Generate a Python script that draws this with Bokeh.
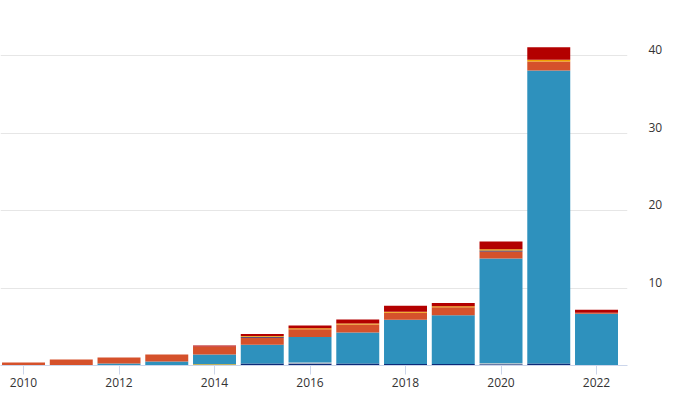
from bokeh.plotting import figure
from bokeh.models import ColumnDataSource, FixedTicker, Range1d, LinearAxis
from bokeh.embed import file_html
from bokeh.resources import INLINE

years = [2010, 2011, 2012, 2013, 2014, 2015, 2016, 2017, 2018, 2019, 2020, 2021, 2022]
navy = [0, 0, 0, 0, 0, 0.26, 0.26, 0.26, 0.2, 0.2, 0.17, 0.26, 0]
gray = [0, 0, 0, 0, 0, 0, 0.13, 0, 0, 0, 0.13, 0, 0]
yellow = [0, 0, 0, 0, 0.17, 0, 0, 0, 0, 0, 0, 0, 0]
blue = [0, 0, 0.26, 0.52, 1.25, 2.41, 3.3, 4.0, 5.7, 6.3, 13.5, 37.8, 6.67]
orange_red = [0.39, 0.77, 0.77, 0.9, 1.03, 0.9, 1.0, 1.03, 0.9, 1.03, 0.9, 1.16, 0.15]
purple = [0, 0, 0, 0, 0, 0.13, 0, 0, 0, 0, 0.15, 0, 0]
orange = [0, 0, 0, 0, 0, 0.1, 0.12, 0.12, 0.13, 0.13, 0.16, 0.22, 0]
red = [0, 0, 0, 0, 0.13, 0.26, 0.35, 0.52, 0.77, 0.39, 1.0, 1.63, 0.39]

x_ticks = [2010, 2012, 2014, 2016, 2018, 2020, 2022]
y_ticks = [10, 20, 30, 40]

series = ["navy", "gray", "yellow", "blue", "orange_red", "purple", "orange", "red"]
colors = ["#0d2a78", "#c9c9c9", "#f2a900", "#2e91bd", "#d5512b", "#2b1f5c", "#f0a000", "#b30000"]

source = ColumnDataSource(dict(
    x=years, navy=navy, gray=gray, yellow=yellow, blue=blue,
    orange_red=orange_red, purple=purple, orange=orange, red=red,
))

y_top = 47.1
label_shift = 0.75  # labels sit slightly above their grid lines

p = figure(width=677, height=408, output_backend="svg", toolbar_location=None,
           x_range=Range1d(2009.518, 2022.649), y_range=Range1d(0, y_top),
           y_axis_location="right", min_border_left=0, min_border_top=0,
           min_border_right=50, min_border_bottom=43)

p.vbar_stack(series, x="x", width=0.9, fill_color=colors, line_color=None, source=source)

p.outline_line_color = None
p.background_fill_color = "white"
p.border_fill_color = "white"

p.xgrid.grid_line_color = None
p.ygrid.ticker = FixedTicker(ticks=y_ticks)
p.ygrid.grid_line_color = "#e6e6e6"
p.ygrid.grid_line_width = 1

p.xaxis.ticker = FixedTicker(ticks=x_ticks)
p.xaxis.minor_tick_line_color = None
p.xaxis.axis_line_color = "#ccd6eb"
p.xaxis.major_tick_line_color = "#ccd6eb"
p.xaxis.major_tick_out = 9
p.xaxis.major_tick_in = 0
p.xaxis.major_label_text_font = "Open Sans"
p.xaxis.major_label_text_font_size = "12px"
p.xaxis.major_label_text_color = "#333333"
p.xaxis.major_label_standoff = 3

p.yaxis.visible = False

p.extra_y_ranges = {"labels": Range1d(-label_shift, y_top - label_shift)}
ax = LinearAxis(y_range_name="labels", ticker=FixedTicker(ticks=y_ticks))
ax.minor_tick_line_color = None
ax.major_tick_line_color = None
ax.axis_line_color = None
ax.major_label_text_font = "Open Sans"
ax.major_label_text_font_size = "12px"
ax.major_label_text_color = "#333333"
ax.major_label_standoff = 15
p.add_layout(ax, "right")

open("out.html", "w").write(file_html(p, INLINE))
